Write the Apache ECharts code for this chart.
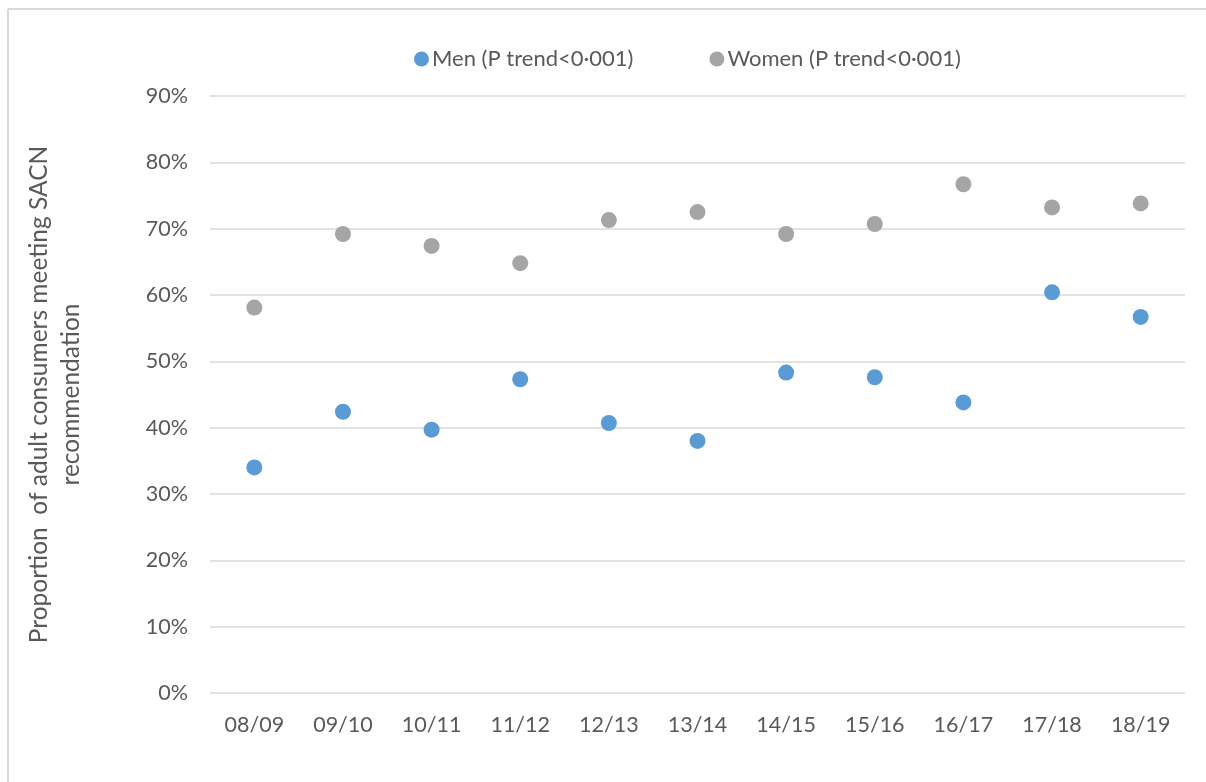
<!DOCTYPE html>
<html>
<head>
<meta charset="utf-8">
<script src="https://cdn.jsdelivr.net/npm/echarts@6/dist/echarts.min.js"></script>
<style>
html,body{margin:0;padding:0;background:#fff;}
#chart{width:1206px;height:782px;}
</style>
</head>
<body>
<div id="chart"></div>
<script>
const categories = ['08/09','09/10','10/11','11/12','12/13','13/14','14/15','15/16','16/17','17/18','18/19'];
const menValues = [34.0, 42.4, 39.7, 47.3, 40.7, 38.0, 48.3, 47.6, 43.8, 60.4, 56.7];
const womenValues = [58.1, 69.2, 67.4, 64.8, 71.3, 72.5, 69.2, 70.7, 76.7, 73.2, 73.8];
const yTicks = [0, 10, 20, 30, 40, 50, 60, 70, 80, 90];
const menName = 'Men (P trend<0·001)';
const womenName = 'Women (P trend<0·001)';
const yTitle = 'Proportion  of adult consumers meeting SACN\nrecommendation';

const FONT = 'Lato, "Open Sans", sans-serif';
const chart = echarts.init(document.getElementById('chart'));
chart.setOption({
  animation: false,
  backgroundColor: '#fff',
  textStyle: { fontFamily: FONT },
  graphic: [
    { type: 'line', shape: { x1: 8, y1: 9, x2: 1206, y2: 9 }, style: { stroke: '#D9D9D9', lineWidth: 2 }, silent: true },
    { type: 'line', shape: { x1: 8, y1: 9, x2: 8, y2: 782 }, style: { stroke: '#D9D9D9', lineWidth: 2 }, silent: true }
  ],
  legend: {
    top: 43,
    left: 409,
    icon: 'circle',
    itemWidth: 15,
    itemHeight: 15,
    itemGap: 76,
    textStyle: { fontSize: 22, color: '#595959', fontFamily: FONT, padding: [0, 0, 0, -2] },
    data: [menName, womenName]
  },
  grid: { left: 210, right: 21, top: 96, bottom: 89, containLabel: false },
  xAxis: {
    type: 'category',
    data: categories,
    boundaryGap: true,
    axisLine: { show: false },
    axisTick: { show: false },
    axisLabel: { color: '#595959', fontSize: 21.5, margin: 21, fontFamily: FONT },
    splitLine: { show: false }
  },
  yAxis: {
    type: 'value',
    min: yTicks[0],
    max: yTicks[yTicks.length - 1],
    interval: 10,
    name: yTitle,
    nameLocation: 'middle',
    nameGap: 123,
    nameRotate: 90,
    nameTextStyle: { color: '#595959', fontSize: 24.5, lineHeight: 32, fontFamily: FONT, align: 'center' },
    axisLine: { show: false },
    axisTick: { show: false },
    axisLabel: { color: '#595959', fontSize: 21.5, margin: 22, formatter: v => v + '%', fontFamily: FONT },
    splitLine: { lineStyle: { color: '#D9D9D9', width: 1.5 } }
  },
  series: [
    {
      name: menName, type: 'scatter', data: menValues,
      symbol: 'circle', symbolSize: 16,
      itemStyle: { color: '#5B9BD5', opacity: 1 }
    },
    {
      name: womenName, type: 'scatter', data: womenValues,
      symbol: 'circle', symbolSize: 16,
      itemStyle: { color: '#A5A5A5', opacity: 1 }
    }
  ]
});
</script>
</body>
</html>
